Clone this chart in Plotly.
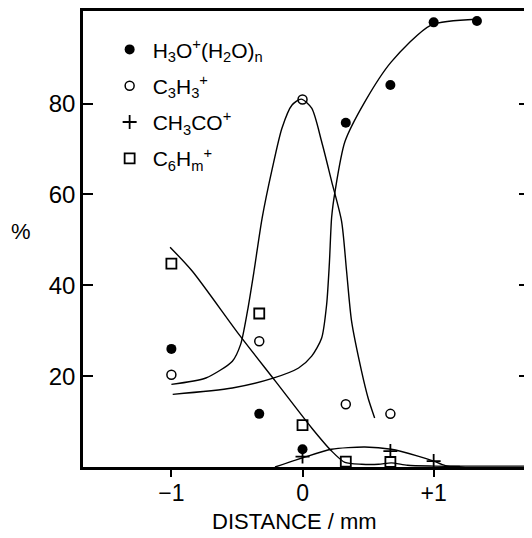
import plotly.graph_objects as go

# ---- measured points ----
dist_h3o = [-1.0, -0.33, 0.0, 0.33, 0.67, 1.0, 1.33]
pct_h3o = [26.0, 11.7, 3.9, 75.8, 84.1, 97.9, 98.2]

dist_c3h3 = [-1.0, -0.33, 0.0, 0.33, 0.67]
pct_c3h3 = [20.3, 27.7, 80.9, 13.8, 11.7]

dist_ch3co = [0.0, 0.67, 1.0]
pct_ch3co = [2.3, 3.5, 1.3]

dist_c6hm = [-1.0, -0.33, 0.0, 0.33, 0.67]
pct_c6hm = [44.8, 33.8, 9.2, 1.2, 1.1]

# ---- hand-drawn curves ----
curve_h3o_x = [-0.99, -0.535, -0.23, -0.03, 0.07, 0.146, 0.184, 0.205, 0.222, 0.248, 0.323, 0.475, 0.677, 0.98, 1.326]
curve_h3o_y = [16.0, 17.4, 19.5, 21.8, 24.4, 28.4, 35.8, 45.0, 55.0, 60.7, 71.6, 80.4, 89.2, 97.3, 98.6]

curve_c3h3_x = [-1.0, -0.737, -0.535, -0.472, -0.42, -0.37, -0.308, -0.23, -0.157, -0.08, -0.01, 0.07, 0.146, 0.222, 0.298, 0.336, 0.374, 0.45, 0.5, 0.55]
curve_c3h3_y = [18.2, 19.6, 23.3, 27.0, 34.3, 43.1, 54.8, 65.8, 74.6, 79.7, 81.0, 79.0, 71.6, 62.9, 54.1, 43.1, 32.1, 21.1, 15.2, 10.8]

curve_c6hm_x = [-1.01, -0.84, -0.485, -0.207, 0.07, 0.222, 0.323, 0.45, 0.58, 0.677, 0.8, 1.0, 1.2]
curve_c6hm_y = [48.4, 43.1, 29.2, 18.9, 8.6, 3.5, 1.0, 0.6, 0.6, 0.9, 0.4, 0.2, 0.1]

curve_ch3co_x = [-0.21, 0.0, 0.22, 0.475, 0.677, 0.88, 1.0, 1.09, 1.3, 1.73]
curve_ch3co_y = [0.0, 2.0, 3.9, 4.4, 3.9, 2.4, 1.3, 0.3, 0.2, 0.2]

x_tickvals = [-1, 0, 1]
x_ticktext = ["\u22121", "0", "+1"]
y_tickvals = [20, 40, 60, 80]

FONT = "Liberation Sans"
fig = go.Figure()

line_style = dict(color="black", width=1.4, shape="spline", smoothing=0.7)
for cx, cy in [(curve_h3o_x, curve_h3o_y), (curve_c3h3_x, curve_c3h3_y),
               (curve_c6hm_x, curve_c6hm_y), (curve_ch3co_x, curve_ch3co_y)]:
    fig.add_trace(go.Scatter(x=cx, y=cy, mode="lines", line=line_style,
                             showlegend=False, hoverinfo="skip"))

fig.add_trace(go.Scatter(x=dist_h3o, y=pct_h3o, mode="markers", legendgroup="a",
                         name="H<sub>3</sub>O<sup>+</sup>(H<sub>2</sub>O)<sub>n</sub>",
                         marker=dict(symbol="circle", size=10, color="black")))
fig.add_trace(go.Scatter(x=dist_c3h3, y=pct_c3h3, mode="markers", legendgroup="b",
                         name="C<sub>3</sub>H<sub>3</sub><sup>+</sup>",
                         marker=dict(symbol="circle-open", size=9, color="black", line=dict(width=1.5))))
fig.add_trace(go.Scatter(x=dist_ch3co, y=pct_ch3co, mode="markers", legendgroup="c",
                         name="CH<sub>3</sub>CO<sup>+</sup>",
                         marker=dict(symbol="cross-thin-open", size=10, color="black", line=dict(width=1.8, color="black"))))
fig.add_trace(go.Scatter(x=dist_c6hm, y=pct_c6hm, mode="markers", legendgroup="d",
                         name="C<sub>6</sub>H<sub>m</sub><sup>+</sup>",
                         marker=dict(symbol="square-open", size=10, color="black", line=dict(width=1.8))))

# figure is drawn 8px in from the page's top-left corner (body margin)
fig.update_layout(
    width=524, height=530,
    margin=dict(l=75, r=0, t=2, b=71),
    paper_bgcolor="white", plot_bgcolor="white",
    font=dict(family=FONT, size=22, color="black"),
    showlegend=True,
    legend=dict(x=0.053, y=0.96, xanchor="left", yanchor="top", itemwidth=36,
                bgcolor="rgba(0,0,0,0)", font=dict(size=21), tracegroupgap=6),
    xaxis=dict(range=[-1.674, 1.727], tickvals=x_tickvals, ticktext=x_ticktext,
               ticks="outside", ticklen=7, tickwidth=2, tickcolor="black",
               showline=True, linecolor="black", linewidth=2.5, mirror=True,
               showgrid=False, zeroline=False, ticklabelstandoff=-3,
               tickfont=dict(size=23)),
    yaxis=dict(range=[0, 100.4], tickvals=y_tickvals,
               ticks="inside", ticklen=10, tickwidth=2, tickcolor="black",
               showline=True, linecolor="black", linewidth=2.5, mirror="ticks",
               showgrid=False, zeroline=False, tickfont=dict(size=24)),
    annotations=[
        dict(text="%", xref="paper", yref="paper", x=-0.138, y=0.516,
             showarrow=False, font=dict(size=22), xanchor="center", yanchor="middle"),
        dict(text="DISTANCE / mm", xref="paper", yref="paper", x=0.474, y=-0.152,
             showarrow=False, font=dict(size=22), xanchor="center", yanchor="bottom"),
    ],
)

fig.write_html("out.html")
